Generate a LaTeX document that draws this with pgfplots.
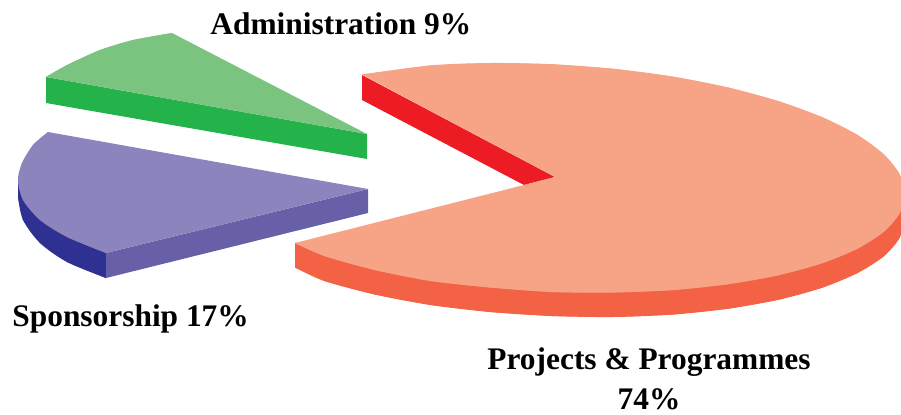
\documentclass[border=0pt]{standalone}
\usepackage{pgfplots}
\pgfplotsset{compat=1.18}
\usepackage{fontspec}
\setmainfont{Liberation Serif}
\definecolor{salmon}{HTML}{F7A386}
\definecolor{salmonside}{HTML}{F36245}
\definecolor{redside}{HTML}{ED1C24}
\definecolor{lgreen}{HTML}{7BC47F}
\definecolor{dgreen}{HTML}{24B24B}
\definecolor{lpurple}{HTML}{8C85BD}
\definecolor{mpurple}{HTML}{675FA8}
\definecolor{dblue}{HTML}{2E3192}
\begin{document}
\begin{tikzpicture}
\begin{axis}[
  scale only axis, width=450.5pt, height=207pt,
  xmin=0, xmax=901, ymin=0, ymax=414, y dir=reverse,
  axis lines=none, clip=true,
]
\path (axis cs:0,0) rectangle (axis cs:901,414);
% Administration
\addplot[draw=none, fill=dgreen] coordinates {(46,77)(367,134)(367,159)(46,103)} -- cycle;
\addplot[draw=none, fill=lgreen] coordinates {(46,77)(67,65)(100,50)(133,40)(172,33)(367,134)} -- cycle;
\addplot[smooth, draw=none, fill=lgreen] coordinates {(46,77)(67,65)(100,50)(133,40)(172,33)};
% Sponsorship
\addplot[draw=none, fill=dblue] coordinates {(18,180)(18,197)(23,220)(40,243)(67,262)(106,278)(106,253)} -- cycle;
\addplot[smooth, draw=none, fill=dblue] coordinates {(18,197)(23,220)(40,243)(67,262)(106,278)};
\addplot[draw=none, fill=mpurple] coordinates {(106,253)(368,189)(368,213)(106,278)} -- cycle;
\addplot[draw=none, fill=lpurple] coordinates {(48,132)(33,145)(22,163)(18,180)(23,200)(40,220)(67,237)(106,253)(368,189)} -- cycle;
\addplot[smooth, draw=none, fill=lpurple] coordinates {(48,132)(33,145)(22,163)(18,180)(23,200)(40,220)(67,237)(106,253)};
% Projects & Programmes
\addplot[draw=none, fill=salmonside] coordinates {(295,243)(295,267.5)(324.3,281)(374.75,294.5)(430.6,305)(490.1,312)(551.5,316)(612.9,317)(672.4,314.6)(728.3,308.7)(778.7,299.7)(822.3,287.7)(857.6,273)(883.7,256.4)(899.6,238)(905,218.5)(905,194)} -- cycle;
\addplot[smooth, draw=none, fill=salmonside] coordinates {(295,267.5)(324.3,281)(374.75,294.5)(430.6,305)(490.1,312)(551.5,316)(612.9,317)(672.4,314.6)(728.3,308.7)(778.7,299.7)(822.3,287.7)(857.6,273)(883.7,256.4)(899.6,238)(905,218.5)};
\addplot[draw=none, fill=redside] coordinates {(362,75)(555,177)(524,185)(362,100)} -- cycle;
\addplot[draw=none, fill=salmon] coordinates {(362,74.5)(430.6,65.4)(490.1,63)(551.5,64.2)(612.9,68.7)(672.4,76.5)(728.3,87.5)(778.7,101.2)(822.3,117.2)(857.6,135)(883.7,154.2)(899.6,174)(905,194)(899.6,213.5)(883.7,231.9)(857.6,248.6)(822.3,263.2)(778.7,275.2)(728.3,284.2)(672.4,290.1)(612.9,292.5)(551.5,292)(490.1,287.5)(430.6,281)(374.75,270)(324.3,256)(295,243)(524,185)(555,177)} -- cycle;
\addplot[smooth, draw=none, fill=salmon] coordinates {(362,74.5)(430.6,65.4)(490.1,63)(551.5,64.2)(612.9,68.7)(672.4,76.5)(728.3,87.5)(778.7,101.2)(822.3,117.2)(857.6,135)(883.7,154.2)(899.6,174)(905,194)};
\addplot[smooth, draw=none, fill=salmon] coordinates {(905,194)(899.6,213.5)(883.7,231.9)(857.6,248.6)(822.3,263.2)(778.7,275.2)(728.3,284.2)(672.4,290.1)(612.9,292.5)(551.5,292)(490.1,287.5)(430.6,281)(374.75,270)(324.3,256)(295,243)};
\node[anchor=base west, inner sep=0pt, font=\fontsize{15.7pt}{18pt}\selectfont\bfseries] at (axis cs:210,34) {Administration 9\%};
\node[anchor=base west, inner sep=0pt, font=\fontsize{15.7pt}{18pt}\selectfont\bfseries] at (axis cs:12,326) {Sponsorship 17\%};
\node[anchor=base, inner sep=0pt, font=\fontsize{15.7pt}{18pt}\selectfont\bfseries] at (axis cs:649,369) {Projects \& Programmes};
\node[anchor=base, inner sep=0pt, font=\fontsize{15.7pt}{18pt}\selectfont\bfseries] at (axis cs:649,409) {74\%};
\end{axis}
\end{tikzpicture}
\end{document}
